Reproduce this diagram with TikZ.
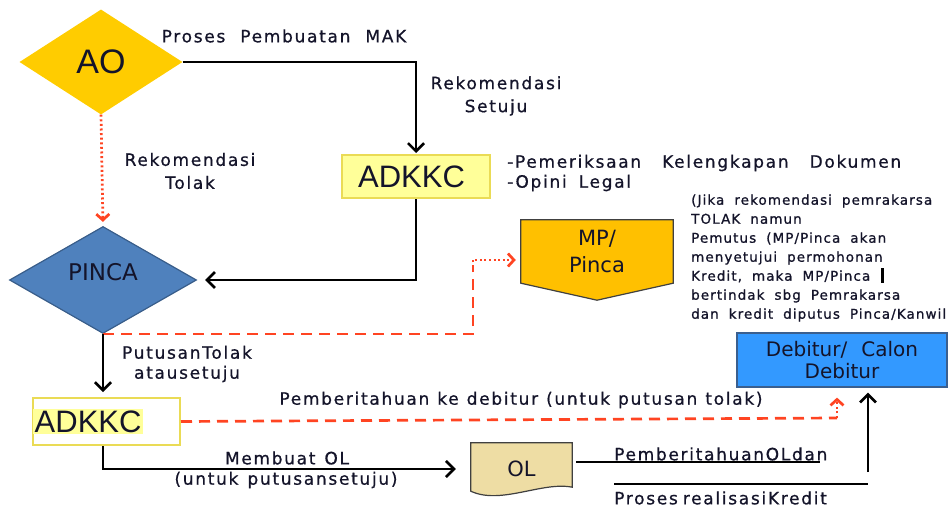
\documentclass[tikz,border=0pt]{standalone}
\usepackage{fontspec}
\setmainfont{DejaVu Sans}
\newfontfamily\arialf{Liberation Sans}
\newfontfamily\lblfont[LetterSpace=10,FakeBold=0.7]{DejaVu Sans}
\newfontfamily\notefont[LetterSpace=8,FakeBold=1]{DejaVu Sans}
\newcommand\wsp[2]{{\spaceskip=#1\relax #2}}
\usetikzlibrary{shapes.geometric,arrows.meta}
\pgfdeclarelayer{bg}
\pgfsetlayers{bg,main}

\definecolor{ink}{HTML}{14142A}
\definecolor{aogold}{HTML}{FFCC00}
\definecolor{mpgold}{HTML}{FFC000}
\definecolor{lightyel}{HTML}{FFFF99}
\definecolor{yelborder}{HTML}{EADB55}
\definecolor{pincafill}{HTML}{4F81BD}
\definecolor{pincaedge}{HTML}{385D8A}
\definecolor{debfill}{HTML}{3399FF}
\definecolor{debedge}{HTML}{3A5F8F}
\definecolor{olfill}{HTML}{EEDDA4}
\definecolor{shapeedge}{HTML}{404040}
\definecolor{redc}{HTML}{FF4422}

\begin{document}
\begin{tikzpicture}[x=1pt,y=-1pt,
  lbl/.style={inner sep=0pt, align=center, text=ink,
    font=\lblfont\fontsize{17}{23}\selectfont},
  notetext/.style={inner sep=0pt, align=left, text=ink,
    font=\notefont\fontsize{13.5}{19}\selectfont},
  bigarial/.style={font=\arialf\fontsize{31}{31}\selectfont, text=ink},
  boxtext/.style={font=\fontsize{20}{22}\selectfont, text=ink, align=center},
  flow/.style={draw=black, line width=2.6pt},
  blackarr/.style={flow, -{Straight Barb[length=8pt,width=16pt]}},
  redline/.style={draw=redc, line width=2.7pt},
  reddash/.style={redline, dash pattern=on 11pt off 7pt},
  reddot/.style={redline, dash pattern=on 2pt off 2.6pt},
  redtip/.style={-{Straight Barb[length=6pt,width=13pt]}}
]
\useasboundingbox (0,0) rectangle (951,511);

% ---------- shapes ----------
\node[diamond, fill=aogold, minimum width=163pt, minimum height=105pt,
      aspect=1.55, inner sep=0pt, font=\arialf\fontsize{34}{34}\selectfont, text=ink] (ao) at (101,62) {AO};

\node[rectangle, fill=lightyel, draw=yelborder, line width=2pt,
      minimum width=148pt, minimum height=43pt, inner sep=0pt, bigarial] (adk1) at (416,176.5) {\hspace*{-9pt}ADKKC};

\node[diamond, fill=pincafill, draw=pincaedge, line width=1.2pt,
      minimum width=187pt, minimum height=107pt, aspect=1.75, inner sep=0pt,
      font=\fontsize{23}{23}\selectfont, text=ink] (pinca) at (103,280) {\raisebox{17pt}{PINCA}};

% MP/Pinca: off-page connector, the text box is its upper square part
\node[minimum width=152pt, minimum height=63pt, inner sep=0pt, boxtext,
      font=\fontsize{21}{27}\selectfont] (mp) at (597,251.5) {MP/\\Pinca};
\begin{pgfonlayer}{bg}
  \draw[fill=mpgold, draw=shapeedge, line width=1.2pt]
    (mp.north west) -- (mp.north east) -- (mp.south east)
    -- ([yshift=-17pt]mp.south) -- (mp.south west) -- cycle;
\end{pgfonlayer}

\node[rectangle, fill=debfill, draw=debedge, line width=1.2pt,
      minimum width=210pt, minimum height=54pt, inner sep=0pt, boxtext,
      font=\fontsize{20}{22}\selectfont] (deb) at (842,360) {\wsp{14pt}{Debitur/ Calon}\\Debitur};

\node[rectangle, fill=white, draw=yelborder, line width=2pt,
      minimum width=147pt, minimum height=47pt, inner sep=0pt] (adk2) at (106.5,421.5) {};
\node[anchor=west, fill=lightyel, inner sep=1.5pt, bigarial] (adk2t) at ([xshift=1pt]adk2.west) {ADKKC};

% OL: document shape with a wavy lower edge
\node[minimum width=101pt, minimum height=52pt, inner sep=0pt,
      font=\fontsize{21}{21}\selectfont, text=ink] (ol) at (521.5,469) {OL};
\begin{pgfonlayer}{bg}
  \draw[fill=olfill, draw=shapeedge, line width=1.2pt]
    (ol.north west) -- (ol.north east) -- ([yshift=8pt]ol.south east)
    .. controls +(-30,-6) and +(30,14) .. ([yshift=4pt]ol.south west) -- cycle;
\end{pgfonlayer}

% ---------- free ends of connectors ----------
\coordinate (tbend) at (473,267);
\coordinate (redup) at (837,418);
\coordinate (olline) at (820,462);
\coordinate (realA) at (614,484);
\coordinate (realB) at (868,484);
\coordinate (realUp) at (868,472);

% ---------- connectors ----------
\draw[blackarr, shorten >=1pt] (ao.east) -| (adk1.north);
\draw[blackarr, shorten >=8pt] (adk1.south) |- (pinca.east);
\draw[reddot, redtip, shorten >=4pt] (ao.south) -- (pinca.north);

\draw[reddash] (pinca.south) -| (tbend);
\draw[reddot, redtip, shorten >=5pt] (tbend) |- ([yshift=-8.5pt]mp.west);

\draw[blackarr, shorten >=5pt] (pinca.south) -- (pinca.south |- adk2.north);

\draw[reddash] (adk2.east) -- (redup);
\draw[reddot, redtip, shorten >=10pt] (redup) -- (redup |- deb.south);

\draw[blackarr, shorten >=15pt] ([xshift=-3.5pt]adk2.south) |- (ol.west);

\draw[black, line width=1.2pt] ([xshift=4pt,yshift=7pt]ol.east) -- (olline);
\draw[black, line width=1.2pt] (realA) -- (realB);
\draw[blackarr, shorten >=5pt] (realUp) -- (realUp |- deb.south);

% ---------- labels ----------
\node[lbl] (tMAK) at (284,36) {\wsp{15pt}{Proses Pembuatan MAK}};
\node[lbl] (tSetuju) at (496,96) {Rekomendasi\\Setuju};
\node[lbl] (tTolak) at (190,171) {Rekomendasi\\Tolak};
\node[lbl, anchor=west, align=left, font=\lblfont\fontsize{17}{20}\selectfont]
  (tCek) at (507,173) {\wsp{21pt}{-Pemeriksaan Kelengkapan Dokumen}\\\wsp{12pt}{-Opini Legal}};
\node[notetext, anchor=west] (tNote) at (691,258)
  {\wsp{10pt}{(Jika rekomendasi pemrakarsa}\\\wsp{10pt}{TOLAK namun}\\\wsp{10pt}{Pemutus (MP/Pinca akan}\\\wsp{10pt}{menyetujui permohonan}\\\wsp{10pt}{Kredit, maka MP/Pinca}\\\wsp{10pt}{bertindak sbg Pemrakarsa}\\\wsp{10pt}{dan kredit diputus Pinca/Kanwil}};
\fill[black] (881,268) rectangle (884,283);
\node[lbl, font=\lblfont\fontsize{17}{20}\selectfont] (tPutus) at (187,364) {PutusanTolak\\atausetuju};
\node[lbl] (tPemb) at (521,400) {\wsp{8pt}{Pemberitahuan ke debitur (untuk putusan tolak)}};
\node[lbl] (tOL1) at (287,458) {\wsp{9pt}{Membuat OL}};
\node[lbl] (tOL2) at (286,480) {\wsp{9pt}{(untuk putusansetuju)}};
\node[lbl, anchor=west] (tOLdan) at (614,454) {PemberitahuanOLdan};
\node[lbl, anchor=west] (tReal) at (614,498) {\wsp{5pt}{Proses realisasiKredit}};
\end{tikzpicture}
\end{document}
